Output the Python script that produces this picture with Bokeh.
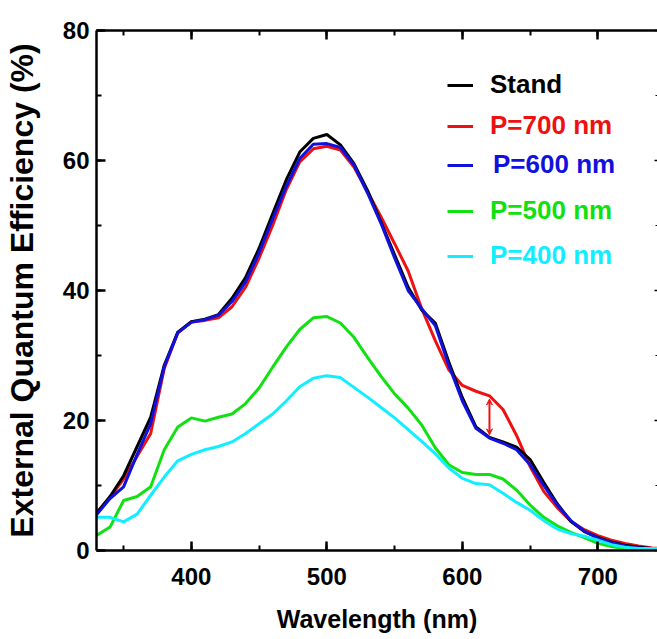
from bokeh.plotting import figure
from bokeh.models import (Range1d, LinearAxis, SingleIntervalTicker, Legend, LegendItem,
                          Arrow, VeeHead)
from bokeh.embed import file_html
from bokeh.resources import INLINE

wavelength = [330, 340, 350, 360, 370, 380, 390, 400, 410, 420, 430, 440, 450, 460, 470,
              480, 490, 500, 510, 520, 530, 540, 550, 560, 570, 580, 590, 600, 610, 620,
              630, 640, 650, 660, 670, 680, 690, 700, 710, 720, 730, 740, 750]

stand = [5.7, 8.3, 11.5, 16.0, 20.5, 28.5, 33.6, 35.2, 35.6, 36.3, 38.8, 42.0, 46.5, 51.8, 57.0,
         61.3, 63.4, 64.0, 62.4, 59.5, 55.4, 50.5, 45.5, 40.5, 37.0, 35.0, 29.0, 23.5, 19.0, 17.4,
         16.7, 15.9, 14.0, 10.5, 7.2, 4.5, 2.9, 2.0, 1.3, 0.8, 0.5, 0.3, 0.2]

p700 = [5.8, 8.2, 11.0, 14.5, 18.0, 28.0, 33.5, 35.2, 35.4, 35.8, 37.5, 40.5, 45.0, 50.0, 55.5,
        59.8, 61.8, 62.2, 61.6, 59.0, 55.2, 51.3, 47.2, 43.0, 37.2, 32.3, 27.8, 25.4, 24.5, 23.8,
        21.7, 17.7, 12.9, 9.1, 6.6, 4.5, 3.2, 2.3, 1.6, 1.1, 0.7, 0.4, 0.3]

p600 = [5.5, 8.0, 9.8, 14.8, 19.5, 28.3, 33.5, 35.1, 35.5, 36.2, 38.3, 41.3, 45.8, 51.0, 56.0,
        60.3, 62.5, 62.6, 62.0, 59.3, 55.0, 50.3, 45.0, 40.0, 37.2, 34.6, 28.5, 23.0, 18.8, 17.3,
        16.5, 15.5, 13.2, 10.0, 7.0, 4.6, 3.0, 1.9, 1.2, 0.7, 0.4, 0.3, 0.2]

p500 = [2.3, 3.6, 7.7, 8.3, 9.8, 15.5, 19.0, 20.4, 19.9, 20.5, 21.0, 22.6, 25.0, 28.2, 31.3,
        34.0, 35.8, 36.0, 35.0, 32.8, 29.7, 26.8, 24.1, 21.9, 19.3, 15.8, 13.2, 12.0, 11.7, 11.7,
        11.0, 9.3, 7.0, 5.1, 3.8, 2.8, 2.0, 1.1, 0.6, 0.3, 0.2, 0.2, 0.2]

p400 = [5.1, 5.1, 4.4, 5.6, 8.5, 11.3, 13.8, 14.8, 15.5, 16.0, 16.7, 18.0, 19.5, 21.0, 23.0,
        25.2, 26.5, 26.9, 26.6, 25.1, 23.6, 22.0, 20.4, 18.6, 16.8, 14.9, 12.7, 11.1, 10.3, 10.1,
        8.8, 7.4, 6.2, 4.6, 3.3, 2.6, 2.2, 1.6, 0.9, 0.5, 0.3, 0.3, 0.3]

labels = ["Stand", "P=700 nm", "P=600 nm", "P=500 nm", "P=400 nm"]
colors = ["#000000", "#ee1111", "#1111dd", "#11e011", "#11eeff"]

arrow_x = 620
arrow_y = [17.8, 23.3]

FONT = "Liberation Sans"

p = figure(frame_width=561, frame_height=520, output_backend="svg", toolbar_location=None,
           x_range=Range1d(330, 744), y_range=Range1d(0, 80),
           min_border_left=0, min_border_top=30, min_border_bottom=0, min_border_right=0,
           background_fill_color="white", border_fill_color="white")
p.outline_line_color = None
p.grid.visible = False

for ax in (p.xaxis[0], p.yaxis[0]):
    ax.axis_line_width = 2.5
    ax.major_tick_line_width = 2.5
    ax.minor_tick_line_width = 2
    ax.major_tick_in = 9
    ax.major_tick_out = 0
    ax.minor_tick_in = 5
    ax.minor_tick_out = 0
    ax.major_label_text_font = FONT
    ax.major_label_text_font_style = "bold"
    ax.major_label_text_font_size = "24px"
    ax.major_label_text_color = "black"
    ax.axis_label_text_font = FONT
    ax.axis_label_text_font_style = "bold"
    ax.axis_label_text_color = "black"

p.xaxis[0].ticker = SingleIntervalTicker(interval=100, num_minor_ticks=2)
p.yaxis[0].ticker = SingleIntervalTicker(interval=20, num_minor_ticks=2)
p.xaxis[0].axis_label = "Wavelength (nm)"
p.yaxis[0].axis_label = "External Quantum Efficiency (%)"
p.xaxis[0].axis_label_text_font_size = "25px"
p.yaxis[0].axis_label_text_font_size = "32px"
p.xaxis[0].major_label_standoff = 17
p.xaxis[0].axis_label_standoff = 17
p.yaxis[0].major_label_standoff = 7
p.yaxis[0].axis_label_standoff = 20

# mirrored axes (top / right): inward ticks, labels not drawn
top = LinearAxis(ticker=SingleIntervalTicker(interval=100, num_minor_ticks=2),
                 major_label_text_font_size="1px", major_label_text_color=None,
                 major_label_standoff=0,
                 axis_line_width=2.5, major_tick_line_width=2.5, minor_tick_line_width=2,
                 major_tick_in=9, major_tick_out=0, minor_tick_in=5, minor_tick_out=0)
p.add_layout(top, "above")
right = LinearAxis(ticker=SingleIntervalTicker(interval=20, num_minor_ticks=2),
                   major_label_text_font_size="1px", major_label_text_color=None,
                   major_label_standoff=0,
                   axis_line_color=None, major_tick_line_width=1.5, minor_tick_line_width=1,
                   major_tick_in=3, major_tick_out=0, minor_tick_in=2, minor_tick_out=0)
p.add_layout(right, "right")

series = [stand, p700, p600, p500, p400]
renderers = {}
for idx in [1, 0, 2, 3, 4]:
    renderers[idx] = p.line(wavelength, series[idx], line_color=colors[idx], line_width=3)

p.add_layout(Arrow(x_start=arrow_x, y_start=arrow_y[0], x_end=arrow_x, y_end=arrow_y[1],
                   line_color=colors[1], line_width=2,
                   start=VeeHead(size=6, line_color=colors[1], fill_color=colors[1]),
                   end=VeeHead(size=6, line_color=colors[1], fill_color=colors[1])))

legend_rows = [465, 424, 385, 339, 294]
legend_x = [351, 351, 351, 351, 351]
standoffs = [17, 17, 20, 17, 17]
for i in range(5):
    lg = Legend(items=[LegendItem(label=labels[i], renderers=[renderers[i]])],
                location=(legend_x[i], legend_rows[i] - 15),
                orientation="vertical", padding=0, margin=0, spacing=0,
                glyph_width=26, glyph_height=30, label_height=30,
                label_standoff=standoffs[i],
                label_text_font=FONT, label_text_font_style="bold",
                label_text_font_size="26px", label_text_color=colors[i],
                label_text_baseline="middle",
                border_line_color=None, background_fill_alpha=0)
    p.add_layout(lg, "center")

open("out.html", "w").write(file_html(p, INLINE))
